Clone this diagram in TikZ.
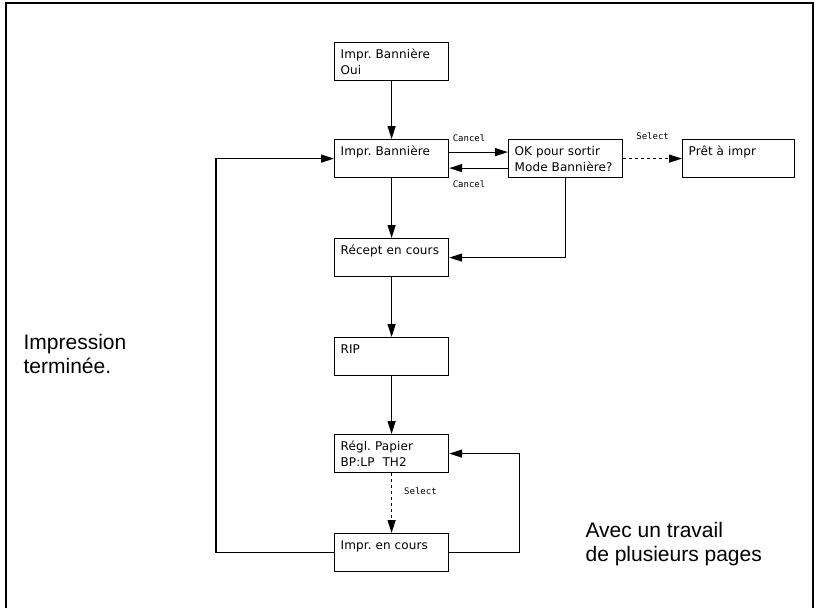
\documentclass[tikz,border=0pt]{standalone}
\usepackage{fontspec}
\setmainfont{Liberation Sans}
\newfontfamily\lcdfont[LetterSpace=1]{DejaVu Sans}
\newfontfamily\keyfont{DejaVu Sans Mono}
\usetikzlibrary{arrows.meta}
\frenchspacing
\tikzset{
  screen/.style={draw, line width=1.2pt, anchor=north west, text width=102pt,
    align=left, inner xsep=6pt, inner ysep=6pt, text height=9.5pt, text depth=16.5pt,
    font=\lcdfont\fontsize{12}{16}\selectfont},
  keytag/.style={font=\keyfont\fontsize{9}{10}\selectfont, inner sep=3pt},
  note/.style={font=\fontsize{21}{24}\selectfont, align=left, anchor=base west, inner sep=0pt}
}
\begin{document}
\begin{tikzpicture}[x=1pt, y=-1pt, >={Triangle[length=13pt,width=8pt]}, line width=1.2pt]
        \useasboundingbox (0,0) rectangle (819,608);
        \draw[line width=2pt] (6,608) -- (6,3) -- (813,3) -- (813,608);

        % Screens
        \node[screen] (b1) at (334,42) {Impr. Bannière\\Oui};
        \node[screen] (b2) at (334,139) {Impr. Bannière};
        \node[screen] (ok) at (508,139) {OK pour sortir\\Mode Bannière?};
        \node[screen, text width=100pt] (pret) at (682,139) {Prêt à impr};
        \node[screen] (recept) at (334,238) {Récept en cours};
        \node[screen] (rip) at (334,337) {RIP};
        \node[screen] (regl) at (334,434) {Régl. Papier\\BP:LP\ \ TH2};
        \node[screen] (impr) at (334,533) {Impr. en cours};

        % Notes
        \node[note] (fin) at (23,373) {Impression\\terminée.};
        \node[note] (pages) at (585,561) {Avec un travail\\de plusieurs pages};

        % Flow
        \draw[->] (b1) -- (b2);
        \draw[->] ([yshift=6.5pt]b2.east) -- ([yshift=6.5pt]b2.east -| ok.west)
            node[keytag, pos=0, anchor=south west, yshift=7pt] {Cancel};
        \draw[->] ([yshift=-9.5pt]b2.east -| ok.west) -- ([yshift=-9.5pt]b2.east)
            node[keytag, pos=1, anchor=north west, yshift=-9pt] {Cancel};
        \draw[->, dashed] (ok) -- (pret) node[keytag, midway, above=15pt] {Select};
        \draw[->] (ok.south) |- (recept.east);
        \draw[->] (b2) -- (recept);
        \draw[->] (recept) -- (rip);
        \draw[->] (rip) -- (regl);
        \draw[->, dashed] (regl) -- (impr)
            node[keytag, midway, anchor=west, xshift=9pt, yshift=12pt] {Select};
        \draw[->] (impr.east) -- ++(70,0) |- (regl.east);
        \draw[->] (impr.west) -- ++(-118,0) |- (b2.west);
    \end{tikzpicture}
\end{document}
